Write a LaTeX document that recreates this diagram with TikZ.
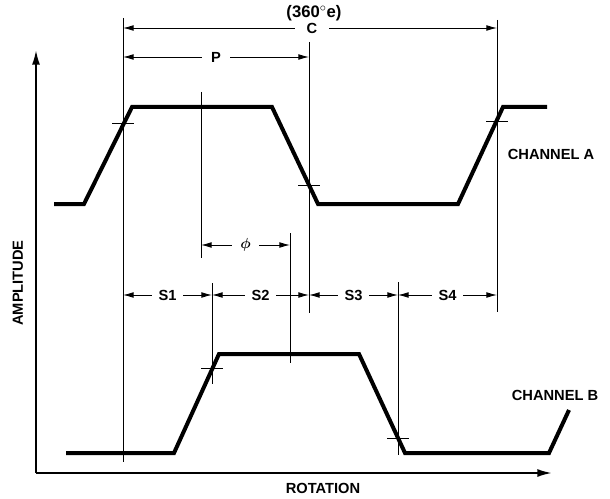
\documentclass[tikz,border=0pt]{standalone}
\usepackage{amsmath}
\usepackage{fontspec}
\setmainfont{Liberation Sans}
\usetikzlibrary{arrows.meta}

\begin{document}
\begin{tikzpicture}[x=0.75pt,y=0.75pt,
	wave/.style={line width=3pt,line join=miter},
	guide/.style={line width=0.7pt},
	dimline/.style={line width=0.7pt,{Latex[length=8pt,width=4.4pt]}-{Latex[length=8pt,width=4.4pt]}},
	axis/.style={line width=1.5pt,-{Latex[length=11pt,width=6pt]}},
	dimlabel/.style={fill=white,inner xsep=5pt,inner ysep=1pt},
	every node/.style={font=\fontsize{11}{13}\selectfont\bfseries,inner sep=0pt}]
	\useasboundingbox (0,0) rectangle (610,-499);
	% axes
	\coordinate (origin) at (36,-473);
	\coordinate (ytip) at (36,-50);
	\coordinate (xtip) at (552,-473);
	\draw [axis] (origin) -- (ytip);
	\draw [axis] (origin) -- (xtip);
	\node (ampl) [rotate=90] at (18,-283) {AMPLITUDE};
	\node (rot) at (323,-488) {ROTATION};
	% channel A
	\draw [wave] (54,-204) -- (84,-204) -- (132,-107) -- (272,-107) -- (318,-204) -- (458,-204) -- (503,-107) -- (547,-107);
	\node (chA) at (551,-154) {CHANNEL A};
	% channel B
	\draw [wave] (66,-453) -- (174,-453) -- (219,-354) -- (359,-354) -- (405,-453) -- (549,-453) -- (569,-410);
	\node (chB) at (555,-395) {CHANNEL B};
	% crossing points
	\coordinate (xa1) at (123,-123);
	\coordinate (xa2) at (309,-185);
	\coordinate (xa3) at (497,-121);
	\coordinate (xb1) at (212,-368);
	\coordinate (xb2) at (398,-438);
	\foreach \p in {xa1,xa2,xa3,xb1,xb2}
		\draw [guide] ([xshift=-8pt]\p) -- ([xshift=8pt]\p);
	% extension lines
	\draw [guide] (123,-18) -- (123,-462);
	\draw [guide] (309,-42) -- (309,-313);
	\draw [guide] (497,-20) -- (497,-312);
	\draw [guide] (201,-92) -- (201,-258);
	\draw [guide] (290,-233) -- (290,-363);
	\draw [guide] (212,-283) -- (212,-384);
	\draw [guide] (398,-282) -- (398,-455);
	% dimensions
	\coordinate (c0) at (123,-28);
	\coordinate (c1) at (497,-28);
	\draw [dimline] (c0) -- node (lblC) [dimlabel,pos=0.505,inner xsep=9pt] {C} (c1);
	\node (deg) [font=\fontsize{12.5}{14}\selectfont\bfseries] at (314,-13) {(360$^\circ$e)};
	\coordinate (p0) at (123,-57);
	\coordinate (p1) at (309,-57);
	\draw [dimline] (p0) -- node (lblP) [dimlabel,inner xsep=7pt] {P} (p1);
	\coordinate (f0) at (201,-245);
	\coordinate (f1) at (290,-245);
	\draw [dimline] (f0) -- node (lblF) [dimlabel,inner xsep=6pt] {$\boldsymbol{\phi}$} (f1);
	\coordinate (s0) at (123,-295);
	\coordinate (s1) at (212,-295);
	\coordinate (s2) at (309,-295);
	\coordinate (s3) at (398,-295);
	\coordinate (s4) at (497,-295);
	\draw [dimline] (s0) -- node (lblS1) [dimlabel] {S1} (s1);
	\draw [dimline] (s1) -- node (lblS2) [dimlabel] {S2} (s2);
	\draw [dimline] (s2) -- node (lblS3) [dimlabel] {S3} (s3);
	\draw [dimline] (s3) -- node (lblS4) [dimlabel] {S4} (s4);
\end{tikzpicture}
\end{document}
